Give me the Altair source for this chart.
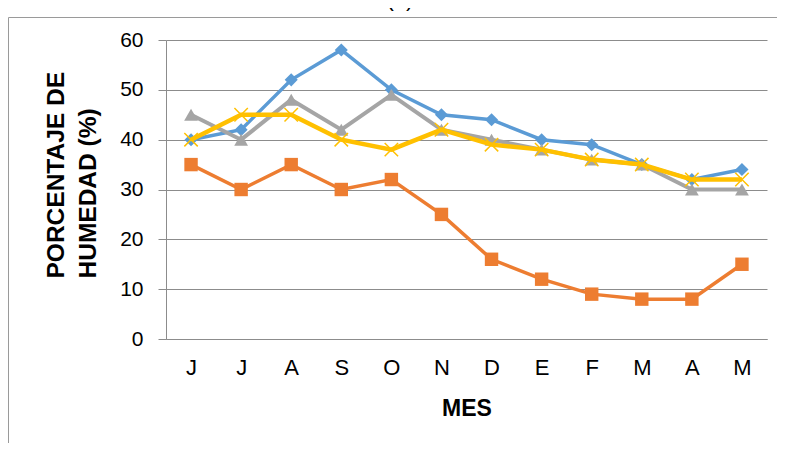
import altair as alt
import pandas as pd

months = ["J", "J", "A", "S", "O", "N", "D", "E", "F", "M", "A", "M"]
serie1 = [40, 42, 52, 58, 50, 45, 44, 40, 39, 35, 32, 34]
serie2 = [35, 30, 35, 30, 32, 25, 16, 12, 9, 8, 8, 15]
serie3 = [45, 40, 48, 42, 49, 42, 40, 38, 36, 35, 30, 30]
serie4 = [40, 45, 45, 40, 38, 42, 39, 38, 36, 35, 32, 32]

series = [
    ("Serie1", serie1, "#5B9BD5", "diamond", 170, True, 3.5),
    ("Serie2", serie2, "#ED7D31", "square", 180, True, 3.5),
    ("Serie3", serie3, "#A5A5A5", "triangle-up", 190, True, 4),
    ("Serie4", serie4, "#FFC000", "M-1,-1L1,1M-1,1L1,-1", 180, False, 4.5),
]

rows = []
for name, vals, *_ in series:
    for i, v in enumerate(vals):
        rows.append({"serie": name, "pos": i, "valor": v})
df = pd.DataFrame(rows)

W, H = 601, 299
PL, PT = 158, 32

label_expr = "[" + ",".join("'%s'" % m for m in months) + "][datum.value]"

x_enc = alt.X(
    "pos:O",
    scale=alt.Scale(domain=list(range(12)), paddingInner=0, paddingOuter=0, align=0.5),
    axis=alt.Axis(
        title="MES",
        labelExpr=label_expr,
        labelAngle=0,
        ticks=False,
        labelPadding=18,
        labelFontSize=22,
        labelColor="#000000",
        titleFontSize=23,
        titleFontWeight="bold",
        titlePadding=19,
        titleColor="#000000",
        domainColor="#8c8c8c",
        domainWidth=1,
        grid=False,
    ),
)
y_enc = alt.Y(
    "valor:Q",
    scale=alt.Scale(domain=[0, 60], nice=False),
    axis=alt.Axis(
        title=["PORCENTAJE DE", "HUMEDAD (%)"],
        values=[0, 10, 20, 30, 40, 50, 60],
        labelFontSize=21,
        labelColor="#000000",
        labelPadding=15,
        tickSize=8,
        tickColor="#8c8c8c",
        domainColor="#8c8c8c",
        gridColor="#8c8c8c",
        gridWidth=1,
        titleFontSize=24.5,
        titleFontWeight="bold",
        titleColor="#000000",
        titleLineHeight=32,
        titleAngle=270,
        titleAlign="left",
        titleBaseline="bottom",
        titleX=-98,
        titleY=238,
    ),
)

base = alt.Chart(df)
layers = []
for name, vals, color, shape, size, filled, lw in series:
    sub = base.transform_filter(alt.datum.serie == name)
    layers.append(
        sub.mark_line(color=color, strokeWidth=lw).encode(x=x_enc, y=y_enc)
    )
    if filled:
        pm = sub.mark_point(shape=shape, size=size, filled=True, color=color, opacity=1)
    else:
        pm = sub.mark_point(shape=shape, size=size, filled=False, color=color,
                            strokeWidth=1.5, opacity=1)
    layers.append(pm.encode(x=x_enc, y=y_enc))

frame_top = alt.Chart(pd.DataFrame({"a": [0]})).mark_rule(color="#9a9a9a", strokeWidth=1).encode(
    x=alt.value(-PL + 0.5), x2=alt.value(W + 20), y=alt.value(-PT + 9.5)
)
frame_left = alt.Chart(pd.DataFrame({"a": [0]})).mark_rule(color="#9a9a9a", strokeWidth=1).encode(
    x=alt.value(-PL + 0.5), y=alt.value(-PT + 9.5), y2=alt.value(H + 200)
)
title_txt = alt.Chart(pd.DataFrame({"t": ["(a)"]})).mark_text(
    fontSize=22, font="Liberation Sans", baseline="bottom", align="center", color="#000000"
).encode(text="t:N", x=alt.value(400 - 8 - PL), y=alt.value(-PT + 3))

chart = alt.layer(frame_top, frame_left, title_txt, *layers).properties(
    width=W, height=H,
    autosize=alt.AutoSizeParams(type="none"),
    padding={"left": PL, "top": PT, "right": 10, "bottom": 104},
).configure(font="Liberation Sans").configure_view(stroke=None)

chart.save("out.html", embed_options={"renderer": "svg", "actions": False})
